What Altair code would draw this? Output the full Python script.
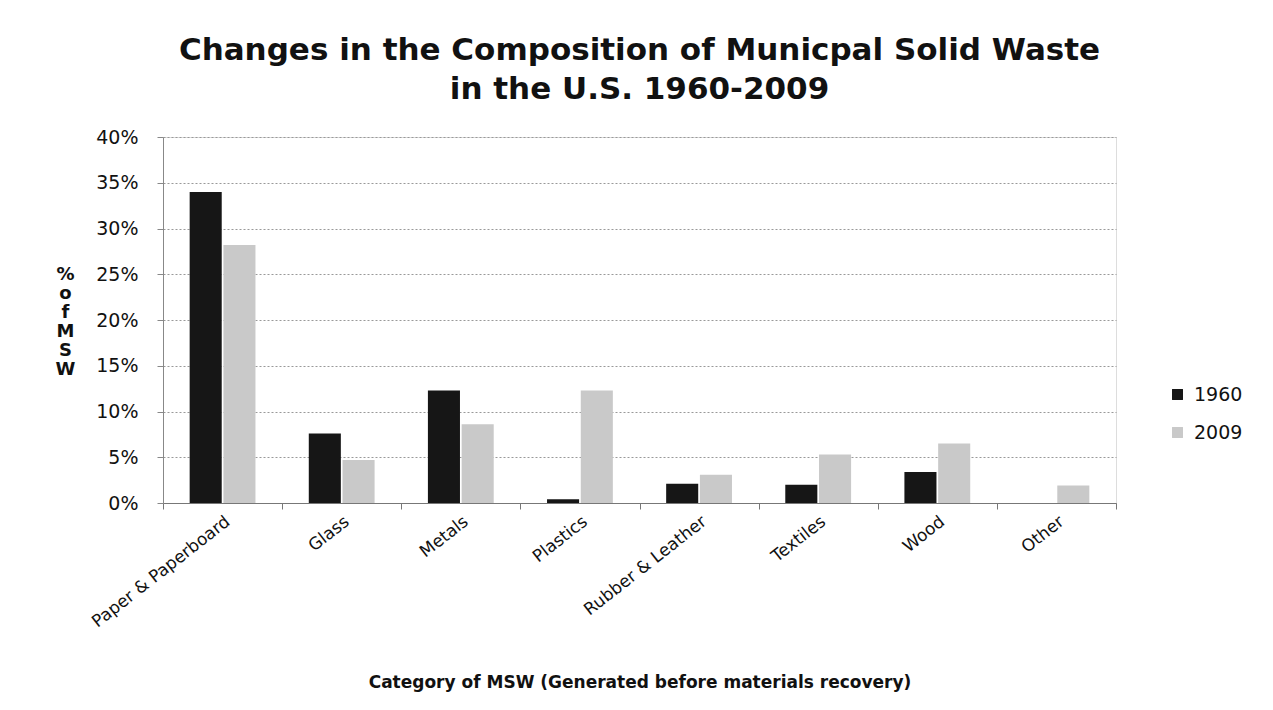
import altair as alt
import pandas as pd

categories = ["Paper & Paperboard", "Glass", "Metals", "Plastics",
              "Rubber & Leather", "Textiles", "Wood", "Other"]
years = ["1960", "2009"]
share_1960 = [0.340, 0.076, 0.123, 0.004, 0.021, 0.020, 0.034, 0.0]
share_2009 = [0.282, 0.047, 0.086, 0.123, 0.031, 0.053, 0.065, 0.019]
y_ticks = [0, .05, .1, .15, .2, .25, .3, .35, .4]

rows = []
for c, a, b in zip(categories, share_1960, share_2009):
    rows.append({"category": c, "year": "1960", "share": a})
    rows.append({"category": c, "year": "2009", "share": b})
df = pd.DataFrame(rows)

FONT = "DejaVu Sans"

chart = alt.Chart(df).mark_bar().encode(
    x=alt.X("category:N", sort=categories,
            scale=alt.Scale(paddingInner=0, paddingOuter=0),
            axis=alt.Axis(title="Category of MSW (Generated before materials recovery)",
                          labelAngle=-38, labelFontSize=17, labelColor="#111",
                          labelFont=FONT, titleFont=FONT, titleFontSize=17,
                          titleFontWeight="bold", titleColor="#111",
                          titleY=184, titleBaseline="alphabetic", grid=False,
                          domainColor="#777", tickColor="#777", tickBand="extent",
                          tickSize=6, labelPadding=4)),
    xOffset=alt.XOffset("year:N", sort=years,
                        scale=alt.Scale(paddingInner=0.05, paddingOuter=0.79)),
    y=alt.Y("share:Q", scale=alt.Scale(domain=[0, 0.4]),
            axis=alt.Axis(format=".0%", values=y_ticks,
                          labelFontSize=19, labelColor="#111", labelFont=FONT,
                          labelPadding=19,
                          title=["%", "o", "f", "M", "S", "W"], titleAngle=0,
                          titleFont=FONT, titleFontSize=18, titleFontWeight="bold",
                          titleColor="#111", titleLineHeight=19,
                          titleX=-98, titleY=142, titleAlign="center",
                          titleBaseline="alphabetic",
                          gridColor="#999", gridDash=[2, 2], gridWidth=1,
                          domainColor="#888", tickColor="#888", tickSize=6)),
    color=alt.Color("year:N", sort=years,
                    scale=alt.Scale(domain=years, range=["#161616", "#c9c9c9"]),
                    legend=alt.Legend(title=None, orient="none", legendX=1005,
                                      legendY=248, labelFontSize=19, labelFont=FONT,
                                      labelColor="#111", symbolType="square",
                                      symbolSize=120, symbolStrokeWidth=0,
                                      rowPadding=18, labelOffset=7)),
).properties(
    width=953, height=366,
    title=alt.TitleParams(["Changes in the Composition of Municpal Solid Waste",
                           "in the U.S. 1960-2009"], fontSize=31, font=FONT,
                          fontWeight="bold", color="#111", lineHeight=39,
                          anchor="middle", offset=22),
    padding={"left": 163, "top": 137, "right": 157, "bottom": 207},
    autosize=alt.AutoSizeParams(type="none"),
).configure_view(stroke=None).configure(background="white")

chart.save("out.html", embed_options={"renderer": "svg", "actions": False})
